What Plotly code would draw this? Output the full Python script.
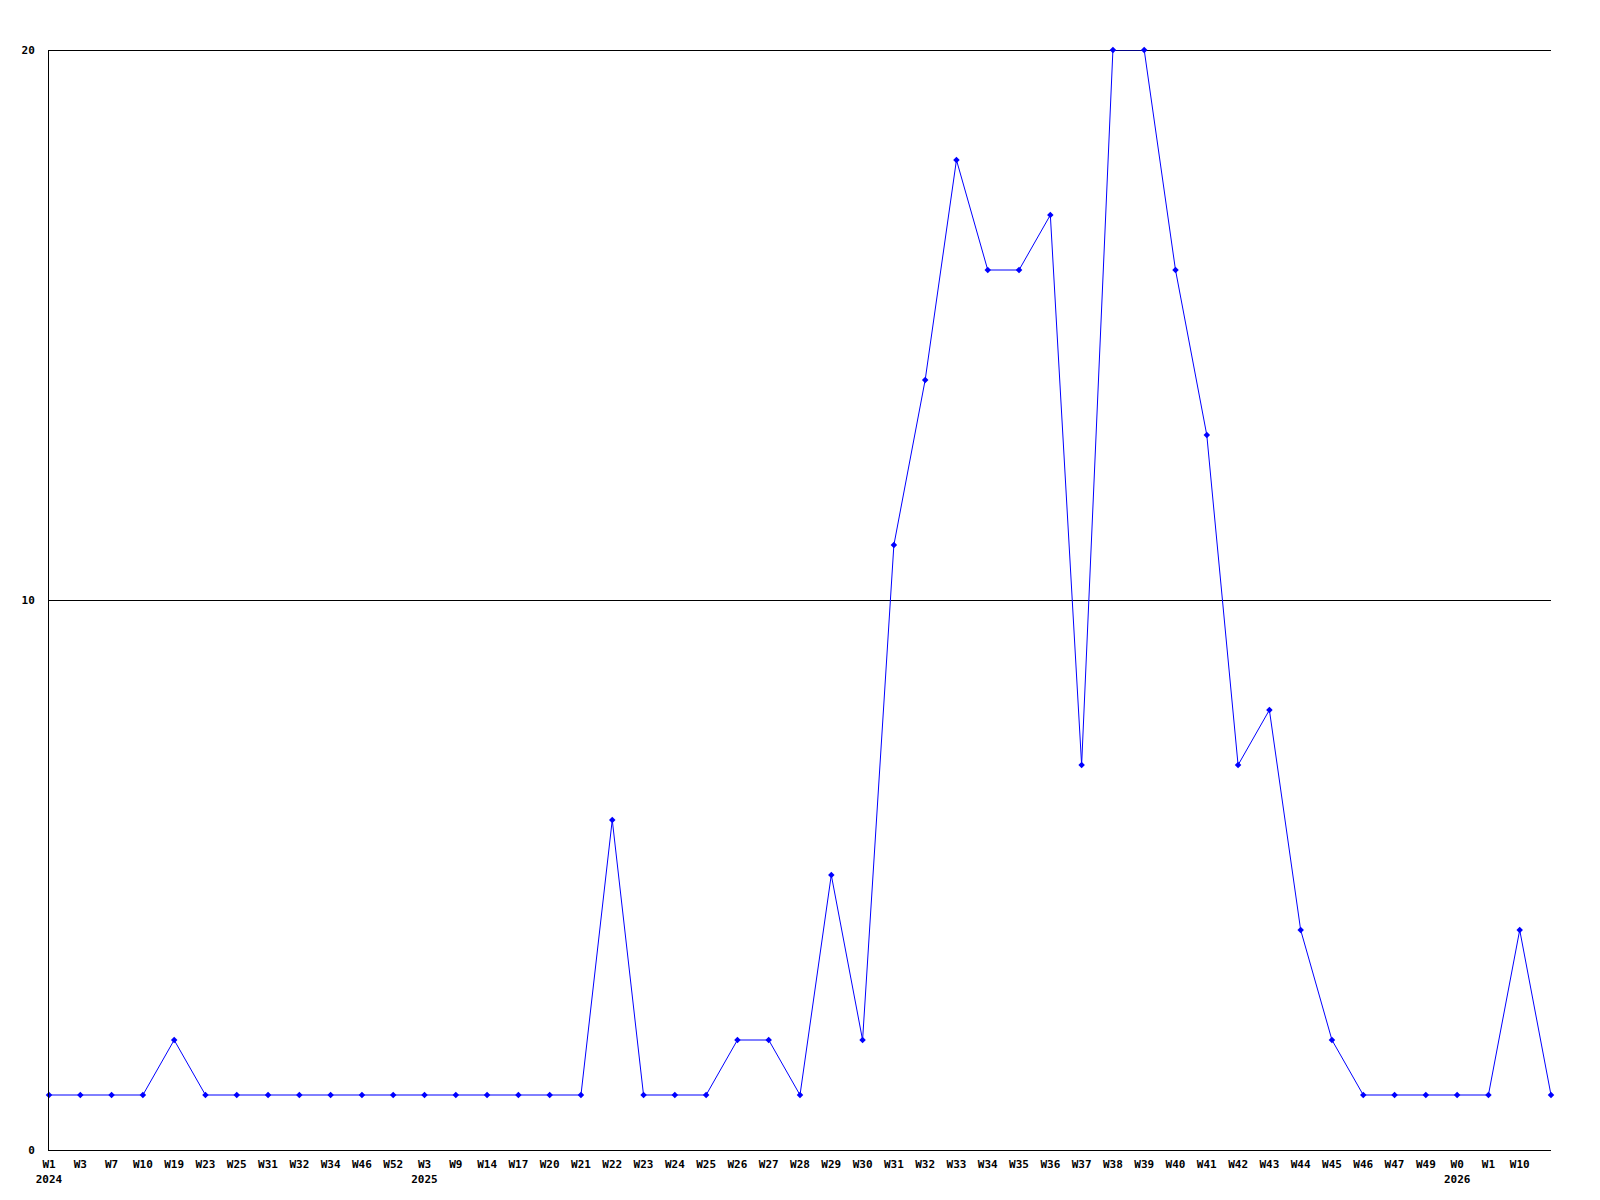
import plotly.graph_objects as go

# Week labels (last point has no label in the reference)
week_labels = ["W1", "W3", "W7", "W10", "W19", "W23", "W25", "W31", "W32", "W34", "W46", "W52",
               "W3", "W9", "W14", "W17", "W20", "W21", "W22", "W23", "W24", "W25", "W26", "W27",
               "W28", "W29", "W30", "W31", "W32", "W33", "W34", "W35", "W36", "W37", "W38", "W39",
               "W40", "W41", "W42", "W43", "W44", "W45", "W46", "W47", "W49", "W0", "W1", "W10", ""]
year_labels = {0: "2024", 12: "2025", 45: "2026"}
values = [1, 1, 1, 1, 2, 1, 1, 1, 1, 1, 1, 1,
          1, 1, 1, 1, 1, 1, 6, 1, 1, 1, 2, 2,
          1, 5, 2, 11, 14, 18, 16, 16, 17, 7, 20, 20,
          16, 13, 7, 8, 4, 2, 1, 1, 1, 1, 1, 4, 1]
y_ticks = [0, 10, 20]

x = list(range(len(values)))
ticktext = []
for i, w in enumerate(week_labels):
    if i in year_labels:
        ticktext.append(f"<b>{w}</b><br><b>{year_labels[i]}</b>")
    else:
        ticktext.append(f"<b>{w}</b>")

PLOT_H = 1100

fig = go.Figure()
# top gridline at the range edge (plotly omits grid lines at the exact edge)
fig.add_shape(type="line", xref="paper", yref="y domain", x0=0, x1=1,
              y0=1 - 0.5 / PLOT_H, y1=1 - 0.5 / PLOT_H,
              line=dict(color="#000000", width=1), layer="below")

fig.add_trace(go.Scatter(
    x=x, y=values, mode="lines+markers",
    line=dict(color="#0000ff", width=1),
    marker=dict(color="#0000ff", size=5, symbol="diamond"),
    cliponaxis=False, hoverinfo="x+y",
))

font = dict(family="DejaVu Sans Mono", size=11, color="#000000")
fig.update_layout(
    width=1600, height=1200,
    paper_bgcolor="white", plot_bgcolor="white",
    margin=dict(l=41, r=57, t=42, b=58, autoexpand=False),
    showlegend=False,
    font=font,
)
fig.update_xaxes(
    range=[0, len(values) - 1],
    tickmode="array", tickvals=x, ticktext=ticktext,
    showgrid=False, zeroline=False,
    showline=True, linecolor="#000000", linewidth=1,
    ticks="", ticklabelstandoff=4,
    tickfont=font, tickangle=0,
)
fig.update_yaxes(
    range=[0, 20],
    tickmode="array", tickvals=y_ticks, ticktext=[f"<b>{v}</b>" for v in y_ticks],
    showgrid=True, gridcolor="#000000", gridwidth=1,
    zeroline=False,
    showline=True, linecolor="#000000", linewidth=1,
    ticks="", ticklabelstandoff=11,
    tickfont=font,
)

fig.write_html("out.html")
